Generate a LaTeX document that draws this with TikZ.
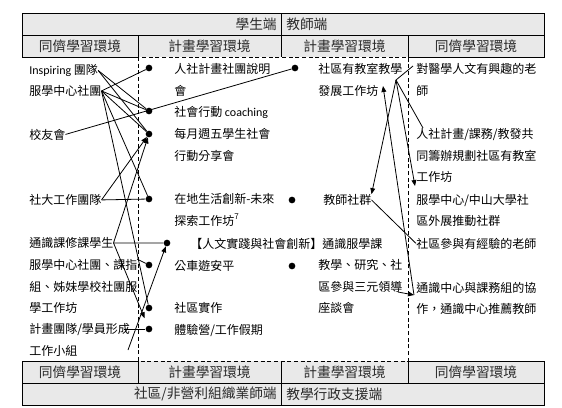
\documentclass[tikz,border=0pt]{standalone}
\usepackage{fontspec}
\setmainfont{Noto Sans CJK TC}
\newfontfamily\latin{Carlito}
\usetikzlibrary{arrows.meta}
\definecolor{hdrgray}{HTML}{E9E9E9}
\definecolor{hdrtext}{HTML}{2A2A2A}
\newcommand{\bodyfont}{\fontsize{9}{16.1}\selectfont}
\newcommand{\hdrfont}{\fontsize{10.3}{12}\selectfont}
\tikzset{
  hdr/.style={font=\hdrfont, text=hdrtext, inner sep=0pt},
  txt/.style={anchor=base west, align=left, inner sep=0pt, font=\bodyfont},
  bullet/.style={circle, fill=black, inner sep=0pt, minimum size=5pt},
  ln/.style={line width=0.6pt},
  arr/.style={line width=0.6pt, -{Triangle[length=4.5pt,width=3.6pt]}}}
\begin{document}
\begin{tikzpicture}[x=0.75pt,y=-0.75pt]
  \useasboundingbox (0,0) rectangle (562,408);
  % header rows, top and bottom
  \fill[hdrgray] (22,13) rectangle (544,57);
  \fill[hdrgray] (22,361) rectangle (544,405);
  \draw[line width=0.6pt] (22,13) rectangle (544,35);
  \draw[line width=0.6pt] (281,13) -- (281,57);
  \draw[line width=0.6pt] (22,35) -- (22,57) -- (138,57) -- (138,35);
  \draw[line width=0.6pt] (408,35) -- (408,57) -- (544,57) -- (544,35);
  \draw[line width=0.6pt] (22,383) rectangle (544,405);
  \draw[line width=0.6pt] (281,361) -- (281,405);
  \draw[line width=0.6pt] (22,383) -- (22,361) -- (138,361) -- (138,383);
  \draw[line width=0.6pt] (408,383) -- (408,361) -- (544,361) -- (544,383);
  % the dashed programme zone
  \draw[line width=0.6pt, dashed, dash pattern=on 3pt off 2pt] (138,57) rectangle (408,361);
  \node[hdr, anchor=east] (stu) at (277,24) {學生端};
  \node[hdr, anchor=west] (tea) at (286,24) {教師端};
  \node[hdr] (h1) at (80,46) {同儕學習環境};
  \node[hdr] (h2) at (209.5,46) {計畫學習環境};
  \node[hdr] (h3) at (344.5,46) {計畫學習環境};
  \node[hdr] (h4) at (476,46) {同儕學習環境};
  \node[hdr] (b1) at (80,372) {同儕學習環境};
  \node[hdr] (b2) at (209.5,372) {計畫學習環境};
  \node[hdr] (b3) at (344.5,372) {計畫學習環境};
  \node[hdr] (b4) at (476,372) {同儕學習環境};
  \node[hdr, anchor=east] (npo) at (277,394) {社區/非營利組織業師端};
  \node[hdr, anchor=west] (adm) at (286,394) {教學行政支援端};
  % peer side, students (base = last line)
  \node[txt] (insp) at (29,74.5) {{\latin Inspiring} 團隊};
  \node[txt] (fx) at (29,95.5) {服學中心社團};
  \node[txt] (alum) at (29,139) {校友會};
  \node[txt] (sd) at (29,204.5) {社大工作團隊};
  \node[txt] (ts) at (29,247.5) {通識課修課學生};
  \node[txt] (fx2) at (29,312.5) {服學中心社團、課指\\組、姊妹學校社團服\\學工作坊};
  \node[txt] (team) at (29,355) {計畫團隊/學員形成\\工作小組};
  % programme side, students
  \node[bullet] (d1) at (149,68) {};
  \node[bullet] (d2) at (149,111) {};
  \node[bullet] (d3) at (149,134) {};
  \node[bullet] (d4) at (149,199) {};
  \node[bullet] (d5) at (167,243) {};
  \node[bullet] (d6) at (149,265) {};
  \node[bullet] (d7) at (149,308) {};
  \node[bullet] (d8) at (149,329) {};
  \node[txt] (rs) at (174,95) {人社計畫社團說明\\會};
  \node[txt] (coach) at (174,116) {社會行動 {\latin coaching}};
  \node[txt] (month) at (174,160) {每月週五學生社會\\行動分享會};
  \node[txt] (local) at (174,225) {在地生活創新-未來\\探索工作坊\textsuperscript{7}};
  \node[txt] (hum) at (190,248) {【人文實踐與社會創新】通識服學課};
  \node[txt] (bus) at (174,270) {公車遊安平};
  \node[txt] (comm) at (174,312.5) {社區實作};
  \node[txt] (camp) at (174,334) {體驗營/工作假期};
  % programme side, teachers
  \node[bullet] (e1) at (295,68) {};
  \node[bullet] (e2) at (292,200) {};
  \node[bullet] (e3) at (292,266) {};
  \node[txt] (cls) at (318,95) {社區有教室教學\\發展工作坊};
  \node[txt] (tcom) at (323,204.5) {教師社群};
  \node[txt] (tri) at (318,312.5) {教學、研究、社\\區參與三元領導\\座談會};
  % peer side, teachers
  \node[txt] (med) at (416,95) {對醫學人文有興趣的老\\師};
  \node[txt] (co) at (416,181.5) {人社計畫/課務/教發共\\同籌辦規劃社區有教室\\工作坊};
  \node[txt] (ext) at (416,225.5) {服學中心/中山大學社\\區外展推動社群};
  \node[txt] (exp) at (416,248) {社區參與有經驗的老師};
  \node[txt] (gec) at (416,313.5) {通識中心與課務組的協\\作，通識中心推薦教師};
  % line ends on the text blocks
  \coordinate (fx2-e) at (137,259);
  \coordinate (team-e) at (124,329);
  \coordinate (team-s) at (128,350);
  \coordinate (med-w) at (413,66);
  \coordinate (fan) at (396,80);
  \coordinate (co-nw) at (423,128);
  \coordinate (ext-nw) at (415,186);
  \coordinate (cls-s) at (383,86);
  \coordinate (gec-w) at (414,295);
  \coordinate (tri-e) at (398,292);
  % students: peer -> programme
  \draw[ln] (insp.east) -- (d2);
  \draw[ln] (insp.east) -- (d3);
  \draw[ln] (fx.east) -- (d1);
  \draw[ln] (fx.east) -- (d2);
  \draw[ln] (fx.east) -- (d3);
  \draw[ln] (fx.east) -- (d4);
  \draw[ln] (fx.east) -- (d7);
  \draw[ln] (alum.east) -- (e1);
  \draw[ln] (sd.east) -- (d4);
  \draw[arr] (sd.east) -- (d3);
  \draw[ln] (ts.east) -- (d5);
  \draw[arr] (ts.east) -- (d3);
  \draw[arr, shorten >=6pt] (ts.east) -- (d8);
  \draw[ln] (fx2-e) -- (d6);
  \draw[ln] (team-e) -- (d8);
  \draw[arr] (team-s) -- (d5);
  % teachers
  \draw[ln] (med-w) -- (fan);
  \draw[arr] (fan) -- (tcom.north east);
  \draw[arr] (fan) -- (ext-nw);
  \draw[ln] (fan) -- (co-nw);
  \draw[arr] (gec-w) -- (cls-s);
  \draw[arr] (tri-e) -- (gec-w);
  \draw[ln] (tcom.east) -- (exp.west);
\end{tikzpicture}
\end{document}
